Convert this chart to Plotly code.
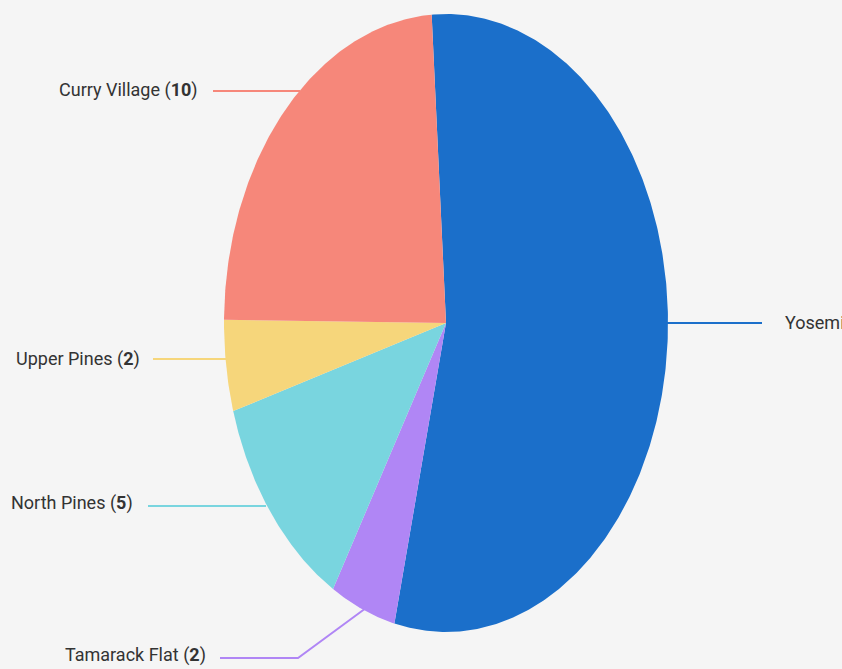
import math
import plotly.graph_objects as go

# ---- data ----
categories = ["Yosemite Valley", "Tamarack Flat", "North Pines", "Upper Pines", "Curry Village"]
values = [23, 2, 5, 2, 10]
colors = ["#1b6fca", "#b086f5", "#79d5df", "#f6d67b", "#f6877a"]

# ---- layout constants (pixel space) ----
W, H = 842, 669
CX, CY = 446, 323
RX, RY = 222, 309
START = -3.7  # degrees clockwise from top

fig = go.Figure()

total = sum(values)
ang = START
for cat, v, c in zip(categories, values, colors):
    span = v / total * 360.0
    n = max(int(span * 2), 4)
    xs, ys = [CX], [CY]
    for i in range(n + 1):
        t = math.radians(ang + span * i / n)
        xs.append(CX + RX * math.sin(t))
        ys.append(CY - RY * math.cos(t))
    xs.append(CX); ys.append(CY)
    fig.add_trace(go.Scatter(x=xs, y=ys, mode="lines", fill="toself",
                             fillcolor=c, line=dict(width=0, color=c),
                             hoverinfo="skip", showlegend=False, name=cat))
    ang += span

# leader lines + labels: (points, label x, label y, anchor)
leaders = {
    "Yosemite Valley": ([(667, 323), (762, 323)], 783, 323, "left"),
    "Curry Village": ([(213, 91), (300, 91)], 200, 90, "right"),
    "Upper Pines": ([(153, 359), (226, 359)], 142, 359, "right"),
    "North Pines": ([(148, 506), (266, 506)], 135, 503, "right"),
    "Tamarack Flat": ([(220, 658), (298, 658), (366, 608)], 208, 655, "right"),
}

for cat, v, c in zip(categories, values, colors):
    pts, lx, ly, anchor = leaders[cat]
    fig.add_trace(go.Scatter(x=[p[0] for p in pts], y=[p[1] for p in pts],
                             mode="lines", line=dict(color=c, width=2),
                             hoverinfo="skip", showlegend=False))
    fig.add_annotation(x=lx, y=ly, xref="x", yref="y",
                       text=f"{cat} (<b>{v}</b>)", showarrow=False,
                       xanchor=anchor, yanchor="middle",
                       font=dict(family="Roboto, sans-serif",
                                 size=18, color="#333333"))

fig.update_layout(
    width=W, height=H,
    margin=dict(l=0, r=0, t=0, b=0),
    paper_bgcolor="#f5f5f5", plot_bgcolor="#f5f5f5",
    xaxis=dict(range=[0, W], visible=False, fixedrange=True),
    yaxis=dict(range=[H, 0], visible=False, fixedrange=True),
    showlegend=False,
)

fig.write_html(
    "out.html",
    config={"displayModeBar": False},
    post_script="document.body.style.margin='0';document.body.style.background='#f5f5f5';document.body.style.overflow='hidden';",
)
